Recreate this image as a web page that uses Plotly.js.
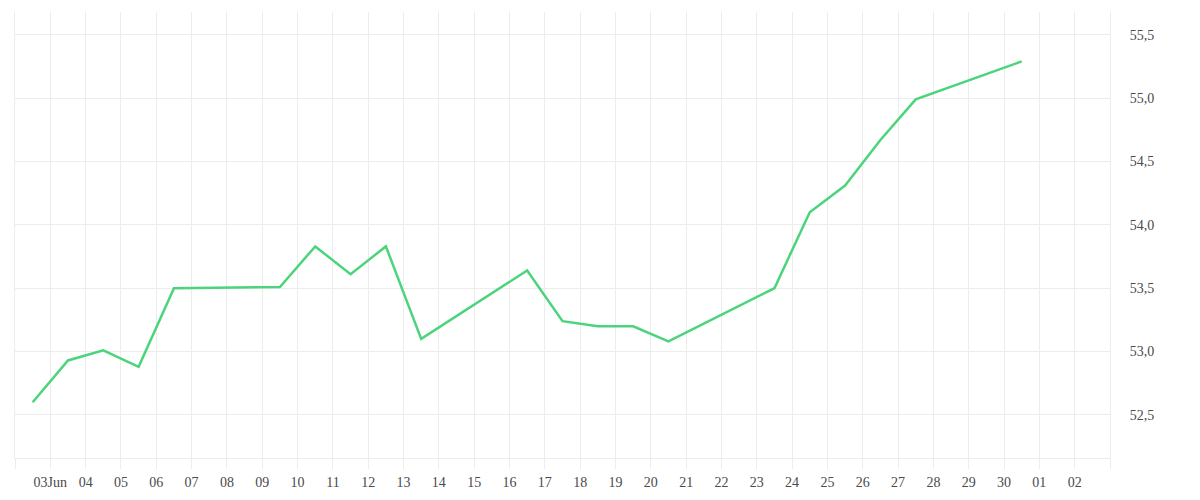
<!DOCTYPE html>
<html>
<head>
<meta charset="utf-8">
<script src="https://cdn.plot.ly/plotly-3.0.1.min.js"></script>
<style>
  html, body { margin: 0; padding: 0; background: #fff; }
  #chart { width: 1200px; height: 500px; }
</style>
</head>
<body>
<div id="chart"></div>
<script>
/* ── Data (trading days, June 2025) ─────────────────────────────── */
const dates = [
  '2025-06-02 12:00', '2025-06-03 12:00', '2025-06-04 12:00', '2025-06-05 12:00', '2025-06-06 12:00',
  '2025-06-09 12:00', '2025-06-10 12:00', '2025-06-11 12:00', '2025-06-12 12:00', '2025-06-13 12:00',
  '2025-06-16 12:00', '2025-06-17 12:00', '2025-06-18 12:00', '2025-06-19 12:00', '2025-06-20 12:00',
  '2025-06-23 12:00', '2025-06-24 12:00', '2025-06-25 12:00', '2025-06-26 12:00', '2025-06-27 12:00',
  '2025-06-30 12:00',
];
const values = [
  52.60, 52.93, 53.01, 52.88, 53.50,
  53.51, 53.83, 53.61, 53.83, 53.10,
  53.64, 53.24, 53.20, 53.20, 53.08,
  53.50, 54.10, 54.31, 54.67, 54.99,
  55.29,
];

/* ── Axis ticks ─────────────────────────────────────────────────── */
const tickDates = [
  '2025-06-02', '2025-06-03', '2025-06-04', '2025-06-05', '2025-06-06', '2025-06-07',
  '2025-06-08', '2025-06-09', '2025-06-10', '2025-06-11', '2025-06-12', '2025-06-13',
  '2025-06-14', '2025-06-15', '2025-06-16', '2025-06-17', '2025-06-18', '2025-06-19',
  '2025-06-20', '2025-06-21', '2025-06-22', '2025-06-23', '2025-06-24', '2025-06-25',
  '2025-06-26', '2025-06-27', '2025-06-28', '2025-06-29', '2025-06-30', '2025-07-01',
  '2025-07-02', '2025-07-03',
];
const tickLabels = [
  '', '03Jun', '04', '05', '06', '07',
  '08', '09', '10', '11', '12', '13',
  '14', '15', '16', '17', '18', '19',
  '20', '21', '22', '23', '24', '25',
  '26', '27', '28', '29', '30', '01',
  '02', '',
];
const yTicks = [52.5, 53.0, 53.5, 54.0, 54.5, 55.0, 55.5];

const COLORS = {
  line: '#4cd47c',
  grid: '#ececec',
  text: '#4a4a4a',
};

const trace = {
  type: 'scatter',
  mode: 'lines',
  x: dates,
  y: values,
  line: { color: COLORS.line, width: 2.5 },
  hoverinfo: 'x+y',
};

const layout = {
  width: 1200,
  height: 500,
  paper_bgcolor: '#fff',
  plot_bgcolor: '#fff',
  separators: ', ',
  showlegend: false,
  font: { family: 'Liberation Serif, serif', size: 14, color: COLORS.text },
  margin: { t: 12, r: 90, b: 42, l: 15 },
  xaxis: {
    type: 'date',
    range: ['2025-06-02', '2025-07-03'],
    tickmode: 'array',
    tickvals: tickDates,
    ticktext: tickLabels,
    showgrid: true,
    gridcolor: COLORS.grid,
    gridwidth: 1,
    ticks: 'outside',
    ticklen: 10,
    tickcolor: COLORS.grid,
    showline: true,
    linecolor: COLORS.grid,
    linewidth: 1,
    zeroline: false,
    ticklabelstandoff: 1,
  },
  yaxis: {
    side: 'right',
    range: [52.16, 55.68],
    tickmode: 'array',
    tickvals: yTicks,
    tickformat: '.1f',
    showgrid: true,
    gridcolor: COLORS.grid,
    gridwidth: 1,
    ticks: '',
    showline: true,
    mirror: true,
    linecolor: COLORS.grid,
    zeroline: false,
    ticklabelstandoff: 16,
  },
};

Plotly.newPlot('chart', [trace], layout, { displayModeBar: false, staticPlot: true });
</script>
</body>
</html>
